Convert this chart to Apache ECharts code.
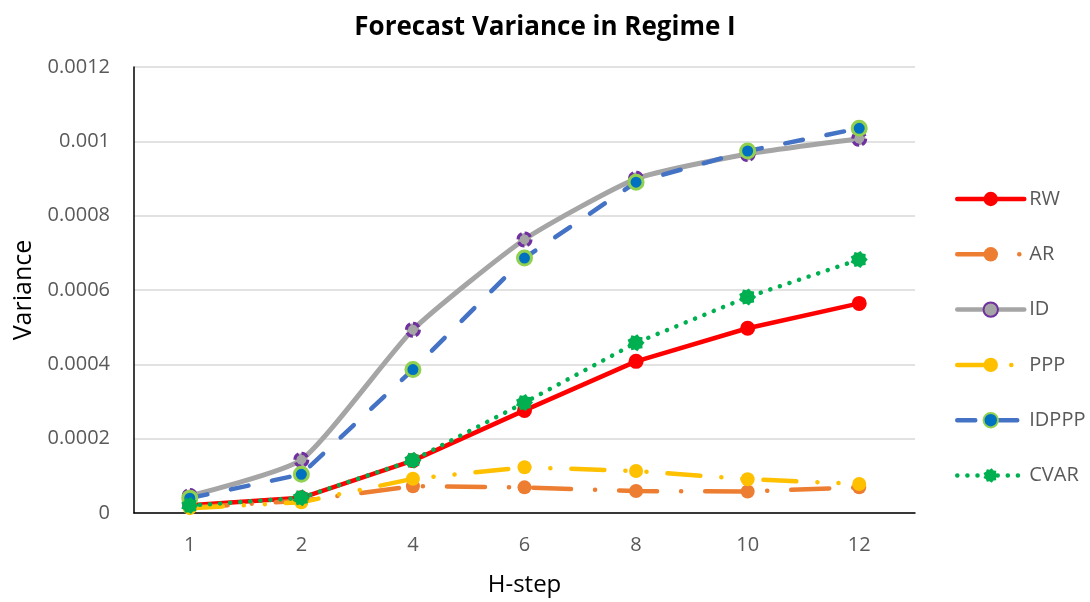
<!DOCTYPE html>
<html>
<head>
<meta charset="utf-8">
<title>Forecast Variance in Regime I</title>
<script src="https://cdn.jsdelivr.net/npm/echarts@6/dist/echarts.min.js"></script>
<style>
  html, body { margin: 0; padding: 0; background: #ffffff; }
  #chart { width: 1090px; height: 602px; }
</style>
</head>
<body>
<div id="chart"></div>
<script>
// Forecast horizons (H-step) and forecast variance for each model
const hSteps = ['1', '2', '4', '6', '8', '10', '12'];

const rw    = [0.000021, 0.000041, 0.000141, 0.000276, 0.000408, 0.000497, 0.000564];
const ar    = [0.000015, 0.000033, 0.000072, 0.000069, 0.000059, 0.000058, 0.000069];
const id    = [0.000046, 0.000143, 0.000493, 0.000736, 0.000899, 0.000966, 0.001007];
const ppp   = [0.000013, 0.000029, 0.000092, 0.000123, 0.000113, 0.000091, 0.000078];
const idppp = [0.000040, 0.000104, 0.000386, 0.000686, 0.000890, 0.000974, 0.001035];
const cvar  = [0.000020, 0.000041, 0.000142, 0.000297, 0.000458, 0.000581, 0.000682];

const yTicks = { min: 0, max: 0.0012, interval: 0.0002 };

// Small cog-like marker used for the CVAR series
function cogSymbol(points, outer, inner) {
  let d = '';
  for (let i = 0; i < points * 2; i++) {
    const r = i % 2 === 0 ? outer : inner;
    const a = (Math.PI * i) / points;
    const x = (50 + r * Math.cos(a)).toFixed(2);
    const y = (50 + r * Math.sin(a)).toFixed(2);
    d += (i === 0 ? 'M' : 'L') + x + ' ' + y + ' ';
  }
  return 'path://' + d + 'Z';
}

const FONT = '"Open Sans", "Noto Sans", sans-serif';
const GREY_TEXT = '#595959';

function lineSeries(name, data, color, width, dash, marker, extra) {
  return Object.assign({
    name: name,
    type: 'line',
    data: data,
    symbol: 'circle',
    symbolSize: 15,
    showSymbol: true,
    lineStyle: { color: color, width: width, type: dash, cap: 'round', join: 'round' },
    itemStyle: Object.assign({ color: color }, marker || {}),
    emphasis: { disabled: true },
    z: 2
  }, extra || {});
}

const chart = echarts.init(document.getElementById('chart'), null, { renderer: 'canvas' });

chart.setOption({
  animation: false,
  backgroundColor: '#ffffff',
  title: {
    text: 'Forecast Variance in Regime I',
    left: 'center',
    top: 15,
    padding: 0,
    textStyle: { fontFamily: FONT, fontSize: 26, fontWeight: 'bold', color: '#000000' }
  },
  grid: { left: 134, right: 175, top: 67, bottom: 88, containLabel: false },
  legend: {
    orient: 'vertical',
    left: 950,
    top: 184,
    itemWidth: 67,
    itemHeight: 18,
    itemGap: 35.3,
    lineStyle: { width: 4.5 },
    textStyle: { fontFamily: FONT, fontSize: 20, color: GREY_TEXT, lineHeight: 18 },
    data: ['RW', 'AR', 'ID', 'PPP', 'IDPPP', 'CVAR']
  },
  xAxis: {
    type: 'category',
    data: hSteps,
    boundaryGap: true,
    name: 'H-step',
    nameLocation: 'middle',
    nameGap: 60,
    nameTextStyle: { fontFamily: FONT, fontSize: 24, color: '#000000' },
    axisLine: { lineStyle: { color: '#000000', width: 1.5 } },
    axisTick: { show: false },
    axisLabel: { margin: 22, fontFamily: FONT, fontSize: 20, color: GREY_TEXT },
    splitLine: { show: false }
  },
  yAxis: {
    type: 'value',
    min: yTicks.min,
    max: yTicks.max,
    interval: yTicks.interval,
    name: 'Variance',
    nameLocation: 'middle',
    nameGap: 96,
    nameRotate: 90,
    nameTextStyle: { fontFamily: FONT, fontSize: 25, color: '#000000' },
    axisLine: { show: true, lineStyle: { color: '#000000', width: 1.5 } },
    axisTick: { show: false },
    axisLabel: {
      margin: 24,
      fontFamily: FONT,
      fontSize: 20,
      color: GREY_TEXT,
      formatter: function (v) { return v === 0 ? '0' : String(+v.toFixed(4)); }
    },
    splitLine: { lineStyle: { color: '#D9D9D9', width: 1.5 } }
  },
  series: [
    lineSeries('RW', rw, '#FF0000', 4.5, 'solid', null),
    lineSeries('AR', ar, '#ED7D31', 4.5, [38, 24, 0.1, 24], null, { symbolSize: 14 }),
    lineSeries('ID', id, '#A5A5A5', 5, 'solid',
      { color: '#A5A5A5', borderColor: '#7030A0', borderWidth: 3, borderType: [7, 3] },
      { smooth: 0.18, symbolSize: 13 }),
    lineSeries('PPP', ppp, '#FFC000', 4.5, [33, 21, 0.1, 21, 0.1, 21], null, { symbolSize: 14 }),
    lineSeries('IDPPP', idppp, '#4472C4', 4.5, [18, 24],
      { color: '#0070C0', borderColor: '#92D050', borderWidth: 3 },
      { symbolSize: 14 }),
    lineSeries('CVAR', cvar, '#00B050', 4.5, [0.1, 10], null,
      { symbol: cogSymbol(9, 50, 40), symbolSize: 17 })
  ]
});
</script>
</body>
</html>
